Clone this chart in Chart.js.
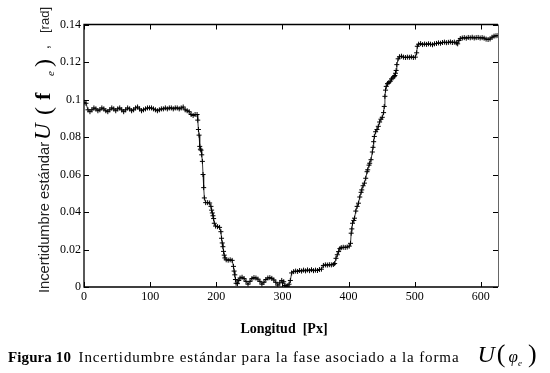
<!DOCTYPE html>
<html>
<head>
<meta charset="utf-8">
<script src="https://cdn.jsdelivr.net/npm/chart.js@4.4.1/dist/chart.umd.min.js"></script>
<style>
  html, body { margin: 0; padding: 0; background: #fff; }
  #marco { position: relative; width: 550px; height: 373px; }
  #leyenda {
    position: absolute; left: 8px; top: 344px;
    font-family: "Liberation Serif", "Times New Roman", serif;
    font-size: 15px; line-height: 20px; color: #000; white-space: nowrap;
  }
  #leyenda b { letter-spacing: 0.1px; }
  #leyenda .txt { letter-spacing: 0.9px; }
  #leyenda .u { font-style: italic; font-size: 24px; margin-left: 18px; }
  #leyenda .par { font-size: 26px; margin: 0 2px; }
  #leyenda .phi { font-style: italic; font-size: 17px; margin-left: 1px; }
  #leyenda sub { font-style: italic; font-size: 9px; margin-right: 4px; }
</style>
</head>
<body>
<div id="marco">
  <canvas id="graficoIncert" width="550" height="373"></canvas>
  <div id="leyenda"><b>Figura 10</b>&nbsp; <span class="txt">Incertidumbre estándar para la fase asociado a la forma</span><span class="u">U</span><span class="par">(</span><span class="phi">φ</span><sub>e</sub><span class="par">)</span></div>
</div>
<script>
// === incertidumbre de fase ===

// Longitud [Px]
const longitud = [
  0, 3, 6, 9, 12, 15, 18, 21, 24, 27, 30, 33, 36, 39, 42, 45, 48, 51, 54, 57,
  60, 63, 66, 69, 72, 75, 78, 81, 84, 87, 90, 93, 96, 99, 102, 105, 108, 111, 114, 117,
  120, 123, 126, 129, 132, 135, 138, 141, 144, 147, 150, 153, 156, 159, 162, 165, 168, 171,
  172, 173, 174, 175, 176, 177, 178, 179, 180, 181, 182, 184, 187, 190, 192, 193, 194, 195,
  196, 197, 199, 202, 205, 207, 208, 209, 210, 211, 212, 213, 215, 218, 221, 224, 226, 227,
  228, 229, 230, 232, 234, 236, 239, 242, 245, 248, 251, 254, 257, 260, 263, 266, 269, 272,
  275, 278, 281, 284, 287, 290, 293, 296, 299, 302, 304, 306, 308, 310, 312, 314, 317, 320,
  323, 326, 329, 332, 335, 338, 341, 344, 347, 350, 353, 356, 359, 362, 365, 368, 371, 374,
  377, 379, 381, 383, 385, 387, 389, 392, 395, 398, 401, 403, 404, 405, 406, 408, 409, 411,
  413, 415, 417, 419, 420, 422, 424, 426, 428, 429, 431, 432, 434, 436, 437, 438, 439, 441,
  443, 445, 447, 449, 451, 453, 454, 455, 456, 457, 459, 461, 463, 465, 467, 469, 470, 471,
  472, 473, 475, 477, 480, 483, 486, 489, 492, 495, 498, 501, 503, 504, 506, 509, 512, 515,
  518, 521, 524, 527, 530, 533, 536, 539, 542, 545, 548, 551, 554, 557, 560, 563, 565, 567,
  569, 572, 575, 578, 581, 584, 587, 590, 593, 596, 599, 602, 605, 608, 611, 614, 617, 620,
  623, 626
];

// U(phi_e) [rad]
const incertidumbre = [
  0.0985, 0.098, 0.0945, 0.0935, 0.0945, 0.0955, 0.095, 0.094, 0.0945, 0.0955,
  0.095, 0.094, 0.0935, 0.0945, 0.0955, 0.095, 0.094, 0.095, 0.0955, 0.0945,
  0.0935, 0.0945, 0.0955, 0.095, 0.094, 0.0945, 0.0955, 0.096, 0.095, 0.094,
  0.0945, 0.095, 0.0955, 0.0955, 0.0955, 0.095, 0.0945, 0.094, 0.0945, 0.095,
  0.095, 0.0955, 0.095, 0.0955, 0.0955, 0.095, 0.0955, 0.0955, 0.095, 0.0955,
  0.096, 0.0945, 0.094, 0.0935, 0.092, 0.0915, 0.092, 0.092,
  0.089, 0.084, 0.081, 0.075, 0.0735, 0.073, 0.0705, 0.067, 0.06, 0.053, 0.0475, 0.045,
  0.045, 0.0448, 0.043, 0.041, 0.0395, 0.038,
  0.0365, 0.034, 0.0325, 0.0322, 0.0318, 0.0295, 0.026, 0.0235, 0.0215, 0.019, 0.017, 0.0155,
  0.0145, 0.0143, 0.0145, 0.0142, 0.011, 0.0085,
  0.0065, 0.004, 0.002, 0.0018, 0.0035, 0.0048, 0.0052, 0.0045, 0.003, 0.0015, 0.003, 0.0045,
  0.005, 0.0048, 0.0042, 0.003, 0.0015, 0.0025,
  0.004, 0.0048, 0.005, 0.0046, 0.0038, 0.0025, 0.001, 0.0022, 0.0035, 0.0028, 0.0008, 0.0002,
  0.0005, 0.0015, 0.0035, 0.0075, 0.0082, 0.0085,
  0.0083, 0.0088, 0.0085, 0.009, 0.0086, 0.0091, 0.0087, 0.0092, 0.0087, 0.009, 0.0088, 0.0093,
  0.0095, 0.0115, 0.0118, 0.0117, 0.0119, 0.0118,
  0.012, 0.0125, 0.0153, 0.0172, 0.0189, 0.0205, 0.021, 0.0212, 0.0211, 0.0213, 0.0218, 0.0233,
  0.0287, 0.031, 0.034, 0.0355, 0.0367, 0.0405,
  0.043, 0.0447, 0.048, 0.0505, 0.0518, 0.054, 0.0554, 0.058, 0.0615, 0.0625, 0.065, 0.066,
  0.0679, 0.072, 0.0745, 0.0775, 0.0803, 0.0828,
  0.084, 0.0857, 0.088, 0.0895, 0.0905, 0.093, 0.0963, 0.1017, 0.105, 0.107, 0.1085, 0.109,
  0.1097, 0.111, 0.1115, 0.1122, 0.1128, 0.114,
  0.1155, 0.1186, 0.1217, 0.1228, 0.1231, 0.1226, 0.1224, 0.1226, 0.1225, 0.1227, 0.1224, 0.1226,
  0.1249, 0.1284, 0.1295, 0.1298, 0.1293, 0.1296,
  0.1294, 0.1297, 0.1295, 0.1292, 0.1297, 0.1299, 0.1302, 0.13, 0.1304, 0.1306, 0.1303, 0.1305,
  0.1307, 0.1304, 0.1306, 0.1302, 0.1297, 0.1315,
  0.1325, 0.1328, 0.133, 0.1327, 0.1331, 0.1329, 0.1332, 0.1328, 0.133, 0.1331, 0.1328, 0.133,
  0.1327, 0.1322, 0.132, 0.1323, 0.1332, 0.1338,
  0.134, 0.1341
];

const etiquetasY = ["0", "0.02", "0.04", "0.06", "0.08", "0.1", "0.12", "0.14"];
const etiquetasX = ["0", "100", "200", "300", "400", "500", "600"];

const serif = '"Liberation Serif", "Times New Roman", serif';
const sans = '"Liberation Sans", Arial, sans-serif';

const puntos = longitud.map((x, i) => ({ x: x, y: incertidumbre[i] }));

// marco tipo matlab con marcas hacia dentro + titulos de ejes
const marcoEjes = {
  id: "marcoEjes",
  afterDatasetsDraw(chart) {
    const { ctx, chartArea: a, scales } = chart;
    const largo = 5;
    ctx.save();
    ctx.strokeStyle = "#000";
    ctx.lineWidth = 1;
    ctx.beginPath();
    scales.x.ticks.forEach(t => {
      const px = Math.round(scales.x.getPixelForValue(t.value)) + 0.5;
      ctx.moveTo(px, a.bottom); ctx.lineTo(px, a.bottom - largo);
      ctx.moveTo(px, a.top); ctx.lineTo(px, a.top + largo);
    });
    scales.y.ticks.forEach(t => {
      const py = Math.round(scales.y.getPixelForValue(t.value)) + 0.5;
      ctx.moveTo(a.left, py); ctx.lineTo(a.left + largo, py);
      ctx.moveTo(a.right, py); ctx.lineTo(a.right - largo, py);
    });
    ctx.stroke();
    ctx.lineWidth = 1.3;
    ctx.beginPath();
    ctx.moveTo(a.right, a.top); ctx.lineTo(a.left, a.top);
    ctx.lineTo(a.left, a.bottom); ctx.lineTo(a.right, a.bottom);
    ctx.stroke();
    ctx.strokeStyle = "#666";
    ctx.lineWidth = 1;
    ctx.beginPath();
    ctx.moveTo(a.right + 0.5, a.top); ctx.lineTo(a.right + 0.5, a.bottom);
    ctx.stroke();

    // titulo eje x
    ctx.fillStyle = "#000";
    ctx.font = "bold 14px " + serif;
    ctx.textAlign = "center";
    ctx.textBaseline = "alphabetic";
    ctx.fillText("Longitud  [Px]", (a.left + a.right) / 2 - 7, 333);

    // titulo eje y (rotado, varias fuentes)
    ctx.translate(49, 293);
    ctx.rotate(-Math.PI / 2);
    ctx.textAlign = "left";
    const trozo = (txt, u, fuente, dv, color) => {
      ctx.font = fuente;
      ctx.fillStyle = color || "#000";
      ctx.fillText(txt, u, dv || 0);
    };
    trozo("Incertidumbre estándar", 0, "14.7px " + sans, 0, "#222");
    trozo("U", 153, "italic 23px " + serif, 1);
    trozo("(", 178, "24px " + serif, 2);
    trozo("f", 193, "bold 22px " + serif, 1);
    trozo("e", 217, "italic 11px " + serif, 5);
    trozo(")", 226, "24px " + serif, 2);
    trozo(",", 244, "14px " + sans, 0);
    trozo("[rad]", 260, "13px " + sans, 0, "#222");
    ctx.restore();
  }
};

new Chart(document.getElementById("graficoIncert"), {
  type: "line",
  data: {
    datasets: [{
      data: puntos,
      borderColor: "#000",
      borderWidth: 0.8,
      pointStyle: "cross",
      pointRadius: 2.5,
      pointBorderWidth: 1,
      pointBorderColor: "#000",
      pointBackgroundColor: "#000",
      tension: 0,
      fill: false
    }]
  },
  options: {
    responsive: false,
    animation: false,
    events: [],
    layout: { padding: { left: 0, right: 52, top: 24.5, bottom: 0 } },
    plugins: { legend: { display: false }, tooltip: { enabled: false } },
    scales: {
      x: {
        type: "linear",
        min: 0,
        max: 626,
        afterFit: s => { s.height = 86; },
        grid: { display: false, drawTicks: false },
        border: { display: false },
        ticks: {
          stepSize: 100,
          includeBounds: false,
          padding: 3,
          color: "#000",
          font: { family: serif, size: 12 },
          maxRotation: 0,
          callback: v => etiquetasX[Math.round(v / 100)]
        }
      },
      y: {
        min: 0,
        max: 0.14,
        afterFit: s => { s.width = 84; },
        grid: { display: false, drawTicks: false },
        border: { display: false },
        ticks: {
          stepSize: 0.02,
          padding: 3,
          color: "#000",
          font: { family: serif, size: 12 },
          callback: v => etiquetasY[Math.round(v / 0.02)]
        }
      }
    }
  },
  plugins: [marcoEjes]
});
</script>
</body>
</html>
